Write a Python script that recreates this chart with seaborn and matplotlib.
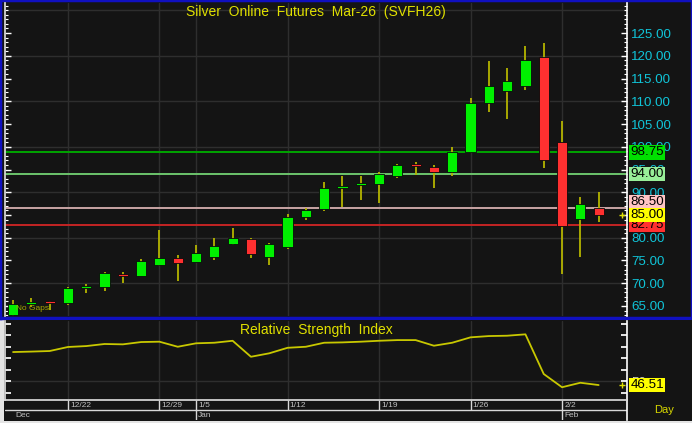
import numpy as np
import matplotlib
matplotlib.use("Agg")
import matplotlib.pyplot as plt
from matplotlib.ticker import MultipleLocator, FixedLocator
import seaborn as sns

# daily OHLC, Dec 17 .. Feb 4
opens = [63.0, 65.5, 65.9, 65.6, 68.9, 69.25, 72.0, 71.7, 74.0, 75.5, 74.7,
         75.8, 78.6, 79.7, 75.8, 78.0, 84.5, 86.25, 90.9, 91.6, 91.9, 93.6,
         96.1, 95.5, 94.4, 98.9, 109.7, 112.3, 113.4, 119.65, 101.1, 84.1, 86.5]
highs = [66.3, 66.7, 66.1, 69.25, 69.8, 72.5, 72.5, 75.3, 81.7, 76.2, 78.4,
         79.9, 82.1, 79.9, 78.8, 85.2, 86.6, 92.3, 93.6, 93.6, 94.4, 96.3,
         96.7, 96.0, 100.0, 110.8, 118.85, 117.4, 122.1, 122.9, 105.7, 89.0, 90.1]
lows = [62.5, 64.7, 64.1, 65.2, 67.8, 68.4, 70.0, 71.6, 73.9, 70.5, 74.6,
        75.0, 78.4, 75.5, 74.0, 77.5, 83.9, 85.9, 86.7, 88.3, 87.6, 93.2,
        93.8, 91.0, 93.6, 98.55, 107.6, 106.0, 112.5, 95.3, 72.0, 75.8, 83.5]
closes = [65.45, 65.7, 65.7, 68.9, 69.1, 72.2, 71.7, 74.9, 75.5, 74.5, 76.6,
          78.2, 79.9, 76.4, 78.6, 84.6, 86.1, 90.9, 91.2, 91.8, 93.95, 95.9,
          95.8, 94.4, 98.8, 109.55, 113.35, 114.45, 119.1, 97.1, 82.6, 87.4, 85.0]
rsi = [75.2, 75.6, 76.1, 79.6, 80.4, 82.2, 81.9, 83.9, 84.2, 79.8, 82.8,
       83.3, 85.0, 71.1, 74.1, 78.9, 79.8, 83.3, 83.6, 84.2, 85.0, 85.6,
       85.6, 80.7, 83.3, 88.0, 89.1, 89.4, 90.6, 56.1, 44.6, 48.5, 46.51]

date_idx = [3, 8, 10, 15, 20, 25, 30]
date_labels = ["12/22", "12/29", "1/5", "1/12", "1/19", "1/26", "2/2"]
month_idx = [0, 10, 30]
month_labels = ["Dec", "Jan", "Feb"]

levels = [98.75, 94.00, 86.50, 82.75]
level_lines = ["#00a400", "#6cc46c", "#c8a4a4", "#c42424"]
level_boxes = ["#00e000", "#98ee98", "#ffc4c4", "#ff3030"]
last_box = "#ffff00"

W, H = 692, 423
BG = "#141414"
GRID = "#2e2e2e"
CYAN = "#10c4d8"
YEL = "#e0e000"
GREEN = "#00f000"
RED = "#ff3030"
WICK = "#b4b400"

sns.set_theme(style="dark")
plt.rcParams["font.family"] = ["Liberation Sans", "DejaVu Sans"]


def px_axes(fig, x0, y0, w, h):
    return fig.add_axes([x0 / W, 1 - (y0 + h) / H, w / W, h / H])


fig = plt.figure(figsize=(W / 100, H / 100), dpi=100, facecolor="#e4e4e4")

# main panel frame
bg = px_axes(fig, 0, 0, 692, 318)
bg.set_facecolor(BG)
bg.set_xticks([])
bg.set_yticks([])
for s in bg.spines.values():
    s.set_color("#1010c0")
    s.set_linewidth(2.5)

idx = np.arange(len(closes))
xlim = (-0.44, 33.55)

ax = px_axes(fig, 5, 3, 622, 313)
ax.set_facecolor("none")
ax.set_xlim(*xlim)
ax.set_ylim(62.8, 131.6)

# grid
ax.set_xticks(date_idx)
ax.set_xticklabels([])
ax.tick_params(axis="x", length=0)
ax.grid(axis="x", color=GRID, lw=1)
ax.grid(axis="y", visible=False)
ax.hlines(np.arange(70, 131, 10), *xlim, color=GRID, lw=1, zorder=0)

# candles
o = np.array(opens)
c = np.array(closes)
up = c >= o
body_lo = np.minimum(o, c)
body_h = np.maximum(np.abs(c - o), 0.4)
cols = [GREEN if u else RED for u in up]
ax.vlines(idx, lows, highs, color=WICK, lw=1.3, zorder=2)
ax.bar(idx, body_h, bottom=body_lo, width=0.56, color=cols,
       edgecolor="#0a0a0a", lw=0.6, zorder=3)

# level lines
for lv, lc in zip(levels, level_lines):
    ax.axhline(lv, color=lc, lw=1.4, zorder=1)

# price axis
ax.yaxis.set_major_locator(FixedLocator(np.arange(65, 126, 5)))
ax.yaxis.set_minor_locator(MultipleLocator(1))
ax.yaxis.set_major_formatter(lambda v, p: f"{v:.2f}")
ax.yaxis.tick_right()
ax.tick_params(axis="y", which="both", direction="in", left=True, right=True,
               colors="white", labelcolor=CYAN, labelsize=9.6, pad=3)
ax.tick_params(axis="y", which="major", length=4, width=1)
ax.tick_params(axis="y", which="minor", length=2, width=0.8)
for s in ["top", "bottom"]:
    ax.spines[s].set_visible(False)
ax.spines["left"].set_color("#d8d8d8")
ax.spines["right"].set_color("white")
ax.spines["right"].set_linewidth(1.2)

# level labels
offs = [0, 0, 4.5, 0]
for lv, bc, dy in zip(levels, level_boxes, offs):
    ax.annotate(f"{lv:.2f}", xy=(1, lv), xycoords=("axes fraction", "data"),
                xytext=(2.5, dy), textcoords="offset points", va="center",
                ha="left", fontsize=9.6, color="black", annotation_clip=False,
                bbox=dict(boxstyle="square,pad=0.08", fc=bc, ec="none"))
ax.annotate(f"{closes[-1]:.2f}", xy=(1, closes[-1]),
            xycoords=("axes fraction", "data"), xytext=(2.5, 0),
            textcoords="offset points", va="center", ha="left", fontsize=9.6,
            color="black", annotation_clip=False,
            bbox=dict(boxstyle="square,pad=0.08", fc=last_box, ec="none"))
ax.plot(idx[-1] + 1.28, closes[-1], marker="+", ms=4, color=YEL, mew=1,
        clip_on=False)

fig.text(316 / W, 1 - 12 / H, "Silver  Online  Futures  Mar-26  (SVFH26)",
         ha="center", va="center", color=YEL, fontsize=10)
ax.text(0.018, 0.012, "No Gaps", transform=ax.transAxes, color="#a8a800",
        fontsize=6, va="bottom", ha="left")

# RSI panel
bg2 = px_axes(fig, 4, 320, 688, 101)
bg2.set_facecolor(BG)
bg2.set_xticks([])
bg2.set_yticks([])
for s in bg2.spines.values():
    s.set_visible(False)

rax = px_axes(fig, 5, 321, 622, 79)
rax.set_facecolor("none")
rax.set_xlim(*xlim)
rax.set_ylim(33.5, 102.2)
rax.set_xticks(date_idx)
rax.set_xticklabels([])
rax.tick_params(axis="x", length=0)
rax.grid(axis="x", color=GRID, lw=1)
rax.grid(axis="y", visible=False)
rax.axhline(50, color=GRID, lw=1, zorder=0)
sns.lineplot(x=idx, y=rsi, ax=rax, color="#c8c800", lw=1.3)
rax.set_xlabel("")
rax.set_ylabel("")
rax.set_yticks(np.arange(40, 101, 10))
rax.set_yticklabels(["" if v != 50 else "50" for v in np.arange(40, 101, 10)])
rax.yaxis.tick_right()
rax.tick_params(axis="y", direction="in", left=True, right=True, length=4,
                colors="white", labelcolor="#c8c8c8", labelsize=9.6, pad=3)
for s in ["top", "bottom"]:
    rax.spines[s].set_visible(False)
rax.spines["left"].set_color("#d8d8d8")
rax.spines["right"].set_color("white")
rax.spines["right"].set_linewidth(1.2)
rax.annotate(f"{rsi[-1]:.2f}", xy=(1, rsi[-1]),
             xycoords=("axes fraction", "data"), xytext=(2.5, 0),
             textcoords="offset points", va="center", ha="left", fontsize=9.6,
             color="black", annotation_clip=False,
             bbox=dict(boxstyle="square,pad=0.08", fc=last_box, ec="none"))
rax.plot(idx[-1] + 1.28, rsi[-1], marker="+", ms=4, color=YEL, mew=1,
         clip_on=False)
rax.text(0.5, 0.88, "Relative  Strength  Index", transform=rax.transAxes,
         ha="center", va="center", color=YEL, fontsize=10)

# date rows
dax = px_axes(fig, 5, 400, 622, 20)
dax.set_facecolor("none")
dax.set_xlim(*xlim)
dax.set_ylim(0, 2)
dax.set_xticks([])
dax.set_yticks([])
dax.grid(False)
for s in ["left", "bottom"]:
    dax.spines[s].set_visible(False)
dax.spines["top"].set_color("#d8d8d8")
dax.spines["right"].set_color("white")
dax.spines["right"].set_linewidth(1.2)
dax.axhline(1, color="#d8d8d8", lw=1)
dax.vlines(date_idx, 1, 2, color="#d8d8d8", lw=1)
dax.vlines(month_idx[1:], 0, 1, color="#d8d8d8", lw=1)
for i, lab in zip(date_idx, date_labels):
    dax.text(i + 0.12, 1.45, lab, color="#c0c0c0", fontsize=6, va="center")
for i, lab in zip(month_idx, month_labels):
    dax.text(i + 0.12, 0.45, lab, color="#c0c0c0", fontsize=6, va="center")
fig.text(664 / W, 1 - 410 / H, "Day", color="#d8d800", fontsize=8,
         ha="center", va="center")

fig.savefig("out.png", dpi=100, facecolor=fig.get_facecolor())
